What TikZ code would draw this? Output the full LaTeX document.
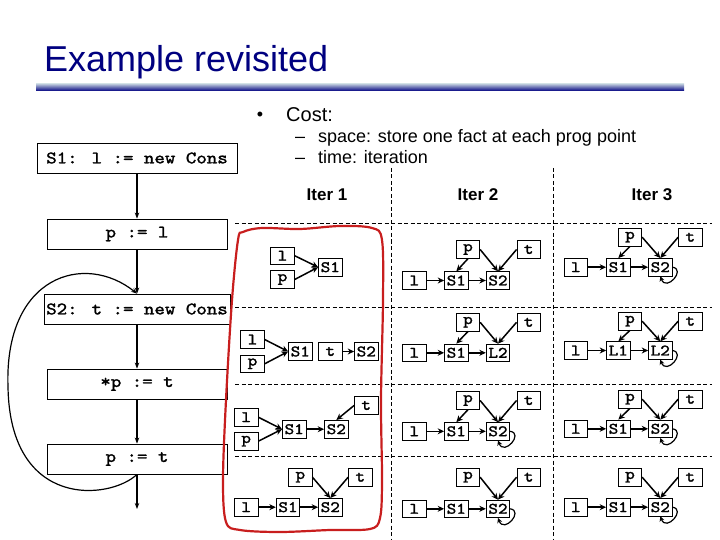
\documentclass[tikz,border=0pt]{standalone}
\usepackage{fontspec}
\setmainfont{Liberation Sans}
\newfontfamily\codefam{lmmono10-regular.otf}[FakeBold=1.6, FakeStretch=1.14]
\usetikzlibrary{arrows.meta}
\definecolor{titleblue}{RGB}{0,0,128}
\definecolor{rulelight}{RGB}{185,198,218}
\definecolor{loopred}{RGB}{200,30,30}
\newcommand{\codefont}{\codefam\fontsize{17.5}{20}\selectfont}
\newcommand{\cellfont}{\codefam\fontsize{16}{17}\selectfont}

\begin{document}
\begin{tikzpicture}[x=1pt, y=-1pt,
    stmt/.style={draw, line width=0.8pt, minimum height=30pt, inner sep=0pt, font=\codefont},
    cell/.style={draw, line width=0.8pt, minimum width=23.5pt, minimum height=17.5pt,
                 inner sep=0pt, font=\cellfont},
    ptr/.style={-{Stealth[length=6.5pt,width=6pt]}, line width=1.5pt},
    selfptr/.style={-{Stealth[length=5pt,width=5pt]}, line width=1.2pt},
    flow/.style={-{Stealth[length=6pt,width=4.5pt]}, line width=1.2pt},
    divider/.style={dash pattern=on 4pt off 2.5pt, line width=0.8pt}]
  \useasboundingbox (0,0) rectangle (720,540);

  % title and bullets
  \node[anchor=base west, inner sep=0pt, text=titleblue, font=\fontsize{36}{40}\selectfont]
       (title) at (44,72) {Example revisited};
  \shade[top color=rulelight, bottom color=titleblue] (36,84) rectangle (684,91);
  \node[anchor=base, inner sep=0pt, font=\fontsize{18}{20}\selectfont] (dot) at (260,121) {\textbullet};
  \node[anchor=base west, inner sep=0pt, font=\fontsize{20}{24}\selectfont] (cost) at (286,122) {Cost:};
  \node[anchor=base west, inner sep=0pt, font=\fontsize{18}{22}\selectfont] (dash1) at (295,143) {–};
  \node[anchor=base west, inner sep=0pt, font=\fontsize{18}{22}\selectfont]
       (space) at (318,143) {space: store one fact at each prog point};
  \node[anchor=base west, inner sep=0pt, font=\fontsize{18}{22}\selectfont] (dash2) at (295,164) {–};
  \node[anchor=base west, inner sep=0pt, font=\fontsize{18}{22}\selectfont]
       (time) at (318,164) {time: iteration};

  % flow graph
  \node[stmt, minimum width=200pt] (s1) at (137,158) {S1: l := new Cons};
  \node[stmt, minimum width=180pt] (pl) at (137,234) {p := l};
  \node[stmt, minimum width=186pt] (s2) at (137,309) {S2: t := new Cons};
  \node[stmt, minimum width=180pt] (deref) at (137,384) {*p := t};
  \node[stmt, minimum width=180pt] (pt) at (137,459) {p := t};
  \coordinate (exit) at (137,509);
  \draw[flow] (s1) -- (pl);
  \draw[flow] (pl) -- (s2);
  \draw[flow] (s2) -- (deref);
  \draw[flow] (deref) -- (pt);
  \draw[flow] (pt) -- (exit);
  \draw[flow] (pt.south) .. controls (110,500) and (10,510) .. (8,387)
              .. controls (4,275) and (85,252) .. (s2.north);

  % table
  \draw[divider] (235,223) -- (712,223);
  \draw[divider] (235,307) -- (712,307);
  \draw[divider] (235,384) -- (712,384);
  \draw[divider] (235,456) -- (712,456);
  \draw[divider] (391,168) -- (391,540);
  \draw[divider] (553,168) -- (553,540);
  \node[font=\bfseries\fontsize{17}{20}\selectfont] (iter1) at (327,195) {Iter 1};
  \node[font=\bfseries\fontsize{17}{20}\selectfont] (iter2) at (478,195) {Iter 2};
  \node[font=\bfseries\fontsize{17}{20}\selectfont] (iter3) at (652,195) {Iter 3};

  % Iter 1
  \node[cell] (a1l) at (282.5,255.7) {l};
  \node[cell] (a1p) at (282.5,279.5) {p};
  \node[cell] (a1s1) at (330.3,267.2) {S1};
  \draw[ptr] (a1l.east) -- (a1s1.west);
  \draw[ptr] (a1p.east) -- (a1s1.west);

  \node[cell] (b1l) at (252.5,339.5) {l};
  \node[cell] (b1p) at (252.5,363.8) {p};
  \node[cell] (b1s1) at (300.3,351.5) {S1};
  \node[cell] (b1t) at (330.3,351.5) {t};
  \node[cell] (b1s2) at (366.3,351.5) {S2};
  \draw[ptr] (b1l.east) -- (b1s1.west);
  \draw[ptr] (b1p.east) -- (b1s1.west);
  \draw[ptr] (b1t) -- (b1s2);

  \node[cell] (c1l) at (246.2,417.2) {l};
  \node[cell] (c1p) at (246.2,441.2) {p};
  \node[cell] (c1s1) at (294.2,429.2) {S1};
  \node[cell] (c1s2) at (336.3,429.2) {S2};
  \node[cell] (c1t) at (366.2,405.5) {t};
  \draw[ptr] (c1l.east) -- (c1s1.west);
  \draw[ptr] (c1p.east) -- (c1s1.west);
  \draw[ptr] (c1s1) -- (c1s2);
  \draw[ptr] (c1t.west) -- (c1s2.north);

  \node[cell] (d1p) at (300.3,477.2) {p};
  \node[cell] (d1t) at (360.3,477.2) {t};
  \node[cell] (d1l) at (246.2,507.2) {l};
  \node[cell] (d1s1) at (288,507.2) {S1};
  \node[cell] (d1s2) at (330.3,507.2) {S2};
  \draw[ptr] (d1l) -- (d1s1);
  \draw[ptr] (d1s1) -- (d1s2);
  \draw[ptr] (d1p.east) -- (d1s2.north);
  \draw[ptr] (d1t.west) -- (d1s2.north);

  % Iter 2
  \node[cell] (a2p) at (468,249.5) {p};
  \node[cell] (a2t) at (528.7,249.5) {t};
  \node[cell] (a2l) at (414.3,280.5) {l};
  \node[cell] (a2s1) at (456.3,280.5) {S1};
  \node[cell] (a2s2) at (498,280.5) {S2};
  \draw[ptr] (a2l) -- (a2s1);
  \draw[ptr] (a2s1) -- (a2s2);
  \draw[ptr] (a2p.south) -- (a2s1.north);
  \draw[ptr] (a2p.east) -- (a2s2.north);
  \draw[ptr] (a2t.west) -- (a2s2.north);

  \node[cell] (b2p) at (468,322.3) {p};
  \node[cell] (b2t) at (528.7,322.3) {t};
  \node[cell] (b2l) at (414.3,352.8) {l};
  \node[cell] (b2s1) at (456.3,352.8) {S1};
  \node[cell] (b2s2) at (498,352.8) {L2};
  \draw[ptr] (b2l) -- (b2s1);
  \draw[ptr] (b2s1) -- (b2s2);
  \draw[ptr] (b2p.south) -- (b2s1.north);
  \draw[ptr] (b2p.east) -- (b2s2.north);
  \draw[ptr] (b2t.west) -- (b2s2.north);

  \node[cell] (c2p) at (468,400.5) {p};
  \node[cell] (c2t) at (528.7,400.5) {t};
  \node[cell] (c2l) at (414.3,431.3) {l};
  \node[cell] (c2s1) at (456.3,431.3) {S1};
  \node[cell] (c2s2) at (498,431.3) {S2};
  \draw[ptr] (c2l) -- (c2s1);
  \draw[ptr] (c2s1) -- (c2s2);
  \draw[ptr] (c2p.south) -- (c2s1.north);
  \draw[ptr] (c2p.east) -- (c2s2.north);
  \draw[ptr] (c2t.west) -- (c2s2.north);
  \draw[selfptr] (c2s2.east) .. controls +(14,2) and +(6,16) .. (c2s2.south);

  \node[cell] (d2p) at (468,477.2) {p};
  \node[cell] (d2t) at (528.7,477.2) {t};
  \node[cell] (d2l) at (414.3,508.8) {l};
  \node[cell] (d2s1) at (456.3,508.8) {S1};
  \node[cell] (d2s2) at (498,508.8) {S2};
  \draw[ptr] (d2l) -- (d2s1);
  \draw[ptr] (d2s1) -- (d2s2);
  \draw[ptr] (d2p.east) -- (d2s2.north);
  \draw[ptr] (d2t.west) -- (d2s2.north);
  \draw[selfptr] (d2s2.east) .. controls +(14,2) and +(6,16) .. (d2s2.south);

  % Iter 3
  \node[cell] (a3p) at (630,237.2) {p};
  \node[cell] (a3t) at (690.3,237.2) {t};
  \node[cell] (a3l) at (575.8,267.2) {l};
  \node[cell] (a3s1) at (618.3,267.2) {S1};
  \node[cell] (a3s2) at (660.3,267.2) {S2};
  \draw[ptr] (a3l) -- (a3s1);
  \draw[ptr] (a3s1) -- (a3s2);
  \draw[ptr] (a3p.south) -- (a3s1.north);
  \draw[ptr] (a3p.east) -- (a3s2.north);
  \draw[ptr] (a3t.west) -- (a3s2.north);
  \draw[selfptr] (a3s2.east) .. controls +(14,2) and +(6,16) .. (a3s2.south);

  \node[cell] (b3p) at (630,321.2) {p};
  \node[cell] (b3t) at (690.3,321.2) {t};
  \node[cell] (b3l) at (575.8,350.5) {l};
  \node[cell] (b3s1) at (618.3,350.5) {L1};
  \node[cell] (b3s2) at (660.3,350.5) {L2};
  \draw[ptr] (b3l) -- (b3s1);
  \draw[ptr] (b3s1) -- (b3s2);
  \draw[ptr] (b3p.south) -- (b3s1.north);
  \draw[ptr] (b3p.east) -- (b3s2.north);
  \draw[ptr] (b3t.west) -- (b3s2.north);
  \draw[selfptr] (b3s2.east) .. controls +(14,2) and +(6,16) .. (b3s2.south);

  \node[cell] (c3p) at (630,399.2) {p};
  \node[cell] (c3t) at (690.3,399.2) {t};
  \node[cell] (c3l) at (575.8,428.8) {l};
  \node[cell] (c3s1) at (618.3,428.8) {S1};
  \node[cell] (c3s2) at (660.3,428.8) {S2};
  \draw[ptr] (c3l) -- (c3s1);
  \draw[ptr] (c3s1) -- (c3s2);
  \draw[ptr] (c3p.south) -- (c3s1.north);
  \draw[ptr] (c3p.east) -- (c3s2.north);
  \draw[ptr] (c3t.west) -- (c3s2.north);
  \draw[selfptr] (c3s2.east) .. controls +(14,2) and +(6,16) .. (c3s2.south);

  \node[cell] (d3p) at (630,477.2) {p};
  \node[cell] (d3t) at (690.3,477.2) {t};
  \node[cell] (d3l) at (575.8,507.2) {l};
  \node[cell] (d3s1) at (618.3,507.2) {S1};
  \node[cell] (d3s2) at (660.3,507.2) {S2};
  \draw[ptr] (d3l) -- (d3s1);
  \draw[ptr] (d3s1) -- (d3s2);
  \draw[ptr] (d3p.east) -- (d3s2.north);
  \draw[ptr] (d3t.west) -- (d3s2.north);
  \draw[selfptr] (d3s2.east) .. controls +(14,2) and +(6,16) .. (d3s2.south);

  % red outline round Iter 1
  \draw[loopred, line width=2.2pt] plot[smooth cycle, tension=0.55] coordinates {
    (243,232) (262,228) (300,229) (340,226) (372,228) (382,240) (383,300) (381,400)
    (382,480) (380,518) (370,529) (330,530) (280,532) (240,530) (226,522) (223,480)
    (226,400) (232,300) (238,240)};
\end{tikzpicture}
\end{document}
